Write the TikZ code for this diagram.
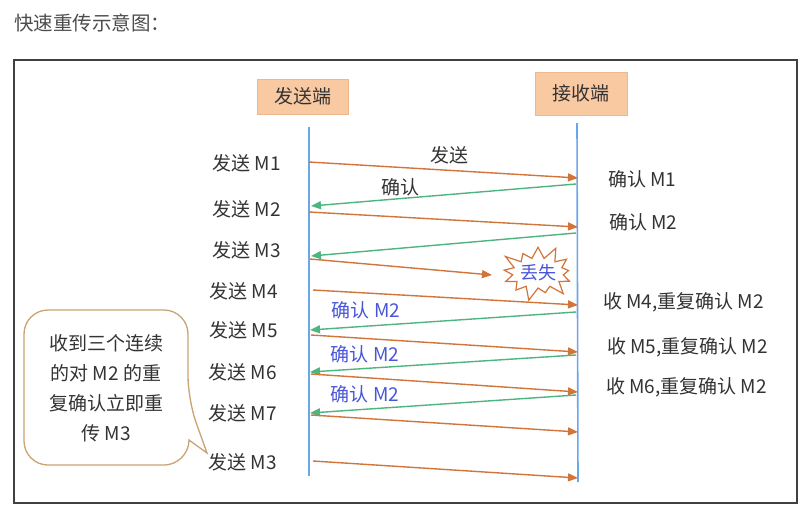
\documentclass[tikz,border=0pt]{standalone}
\usepackage{fontspec}
\setmainfont{Noto Sans CJK SC}
\usetikzlibrary{arrows.meta,shapes.symbols}
\definecolor{sendc}{HTML}{D2753A}
\definecolor{ackc}{HTML}{4DB57F}
\definecolor{linec}{HTML}{6AA7E8}
\definecolor{bluet}{HTML}{4A55D8}
\definecolor{boxfill}{HTML}{F9C9A2}
\definecolor{boxdraw}{HTML}{EDB98C}
\definecolor{calloutc}{HTML}{C9A472}
\definecolor{textc}{HTML}{333333}
\tikzset{
  x=1pt,y=-1pt,
  endbox/.style={draw=boxdraw,fill=boxfill,font=\fontsize{19}{22}\selectfont,text=textc,inner sep=2pt},
  lifeline/.style={draw=linec,line width=1.6pt},
  sendarrow/.style={draw=sendc,line width=1.4pt,-{Triangle[length=10pt,width=8pt]}},
  ackarrow/.style={draw=ackc,line width=1.4pt,-{Triangle[length=10pt,width=8pt]}},
  lbl/.style={font=\fontsize{19}{22}\selectfont,text=textc,inner sep=0pt},
  bluelbl/.style={font=\fontsize{19}{22}\selectfont,text=bluet,inner sep=0pt},
}
\begin{document}
\begin{tikzpicture}
\useasboundingbox (0,0) rectangle (809,512);
\fill[white] (0,0) rectangle (809,512);
% title
\node[font=\fontsize{19.5}{22}\selectfont,text=black!70,anchor=west,inner sep=0pt] (title) at (14,23) {快速重传示意图：};
% frame
\draw[draw=black!75,line width=1.3pt] (14,60) rectangle (797,503);
% end boxes
\node[endbox,minimum width=91pt,minimum height=35pt] (sender) at (302.5,96.5) {发送端};
\node[endbox,minimum width=92pt,minimum height=43pt] (receiver) at (581,93.5) {接收端};
% lifelines
\coordinate (stop) at (309,127);
\coordinate (sbot) at (309,476);
\coordinate (rtop) at (577,123);
\coordinate (rbot) at (578,482);
\draw[lifeline] (stop) -- (sbot);
\draw[lifeline] (rtop) -- (rbot);
% endpoints
\coordinate (a1s) at (309,162); \coordinate (a1r) at (578,178);
\coordinate (b1r) at (576,184); \coordinate (b1s) at (311,206);
\coordinate (a2s) at (309,212); \coordinate (a2r) at (578,227);
\coordinate (b2r) at (576,233); \coordinate (b2s) at (311,256);
\coordinate (a3s) at (310,259); \coordinate (a3e) at (492,275);
\coordinate (a4s) at (313,290); \coordinate (a4r) at (578,305);
\coordinate (b4r) at (576,312); \coordinate (b4s) at (310,330);
\coordinate (a5s) at (311,335); \coordinate (a5r) at (578,352);
\coordinate (b5r) at (576,355); \coordinate (b5s) at (310,372);
\coordinate (a6s) at (311,374); \coordinate (a6r) at (578,392);
\coordinate (b6r) at (576,395); \coordinate (b6s) at (310,413);
\coordinate (a7s) at (311,415); \coordinate (a7r) at (578,432);
\coordinate (a8s) at (313,461); \coordinate (a8r) at (578,478);
% arrows
\draw[sendarrow] (a1s) -- (a1r);
\draw[ackarrow] (b1r) -- (b1s);
\draw[sendarrow] (a2s) -- (a2r);
\draw[ackarrow] (b2r) -- (b2s);
\draw[sendarrow] (a3s) -- (a3e);
\draw[sendarrow] (a4s) -- (a4r);
\draw[ackarrow] (b4r) -- (b4s);
\draw[sendarrow] (a5s) -- (a5r);
\draw[ackarrow] (b5r) -- (b5s);
\draw[sendarrow] (a6s) -- (a6r);
\draw[ackarrow] (b6r) -- (b6s);
\draw[sendarrow] (a7s) -- (a7r);
\draw[sendarrow] (a8s) -- (a8r);
% loss burst
\node[starburst,starburst points=13,starburst point height=15pt,draw=sendc,line width=1.2pt,fill=white,minimum width=78pt,minimum height=60pt,inner sep=0pt,font=\fontsize{18}{21}\selectfont,text=bluet] (loss) at (538,273) {丢失};
% arrow labels
\node[lbl] (lsend) at (449,155) {发送};
\node[lbl] (lack) at (400,187) {确认};
\node[bluelbl] (lack4) at (366,310) {确认 M2};
\node[bluelbl] (lack5) at (365,354) {确认 M2};
\node[bluelbl] (lack6) at (365,394) {确认 M2};
% sender labels
\node[lbl,anchor=east] (s1) at (281,163) {发送 M1};
\node[lbl,anchor=east] (s2) at (281,209) {发送 M2};
\node[lbl,anchor=east] (s3) at (281,250) {发送 M3};
\node[lbl,anchor=east] (s4) at (278,291) {发送 M4};
\node[lbl,anchor=east] (s5) at (278,330) {发送 M5};
\node[lbl,anchor=east] (s6) at (277,372) {发送 M6};
\node[lbl,anchor=east] (s7) at (277,413) {发送 M7};
\node[lbl,anchor=east] (s8) at (277,462) {发送 M3};
% receiver labels
\node[lbl,anchor=west] (r1) at (608,179) {确认 M1};
\node[lbl,anchor=west] (r2) at (609,222) {确认 M2};
\node[lbl,anchor=west] (r4) at (603,302) {收 M4,重复确认 M2};
\node[lbl,anchor=west] (r5) at (607,347) {收 M5,重复确认 M2};
\node[lbl,anchor=west] (r6) at (606,387) {收 M6,重复确认 M2};
% callout
\draw[draw=calloutc,line width=1.3pt,fill=white,rounded corners=24pt]
  (24,310) -- (188,310) -- (188,400) [sharp corners] -- (207,453) -- (189,440) [rounded corners=24pt] -- (188,465) -- (24,465) -- cycle;
\node[lbl,align=center,font=\fontsize{19}{30}\selectfont] (note) at (106,388) {收到三个连续\\的对 M2 的重\\复确认立即重\\传 M3};
\end{tikzpicture}
\end{document}
